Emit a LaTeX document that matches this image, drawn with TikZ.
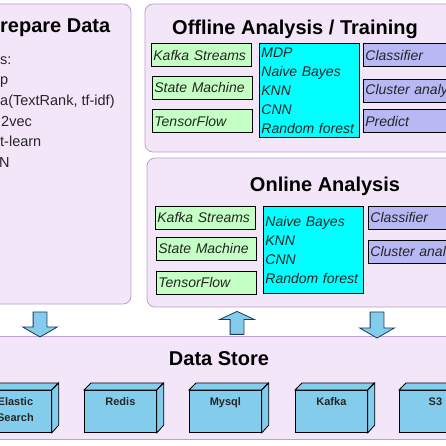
\documentclass[tikz,border=0pt]{standalone}
\usepackage{fontspec}
\setmainfont{Liberation Sans}
\usetikzlibrary{shapes.arrows,positioning}
\definecolor{panelfill}{HTML}{F3E6F8}
\definecolor{panelline}{HTML}{BBA0CC}
\definecolor{toolgreen}{HTML}{C4FFC4}
\definecolor{algocyan}{HTML}{00FFFF}
\definecolor{taskblue}{HTML}{B8B8F4}
\definecolor{storeblue}{HTML}{84CCEC}
\definecolor{arrowline}{HTML}{1E3A5A}

\begin{document}
\begin{tikzpicture}[x=1pt,y=-1pt,
  panel/.style={draw=panelline,fill=panelfill,rounded corners=8pt,line width=0.8pt},
  paneltitle/.style={font=\fontsize{20}{24}\selectfont\bfseries,anchor=base,inner sep=0pt},
  listtext/.style={font=\fontsize{14.5}{18}\selectfont,text=black!85,anchor=base west,inner sep=0pt},
  toolbox/.style={draw,line width=0.8pt,fill=toolgreen,anchor=north west,minimum height=23pt,text width=96pt,inner xsep=2pt,inner ysep=0pt,align=left,font=\fontsize{14}{17}\selectfont\itshape,text=black!85},
  algobox/.style={toolbox,fill=algocyan,font=\fontsize{14}{19}\selectfont\itshape},
  taskbox/.style={toolbox,fill=taskblue,text width=110pt},
  storebox/.style={draw,line width=0.8pt,fill=storeblue,anchor=north west,minimum width=72pt,minimum height=42pt,inner sep=0pt},
  storelabel/.style={font=\fontsize{11}{16}\selectfont\bfseries,text=black!85,align=center,inner sep=0pt},
  flowarrow/.style={single arrow,draw=arrowline,line width=0.8pt,fill=storeblue,inner xsep=0pt,inner ysep=6.5pt,minimum height=25pt,single arrow head extend=10.5pt,single arrow tip angle=120}]
  \useasboundingbox (0,0) rectangle (445,446);

  \draw[panel] (-20,4) rectangle (131,304);
  \draw[panel] (145,4) rectangle (470,152);
  \draw[panel] (147,158) rectangle (470,307);
  \draw[panel,rounded corners=0pt] (-20,336) rectangle (470,439);

  \node[paneltitle,anchor=base west] (prepTitle) at (0,33) {repare Data};
  \node[listtext] (prepA) at (0,64.5) {s:};
  \node[listtext] (prepB) at (0,85) {p};
  \node[listtext] (prepC) at (0,105.7) {a(TextRank, tf-idf)};
  \node[listtext] (prepD) at (1,126.3) {2vec};
  \node[listtext] (prepE) at (0,146.9) {t-learn};
  \node[listtext] (prepF) at (-1,167.5) {N};

  \node[paneltitle] (offTitle) at (295,35) {Offline Analysis / Training};
  \node[toolbox] (offKafka) at (151,43.5) {Kafka Streams};
  \node[toolbox] (offState) at (152,76) {State Machine};
  \node[toolbox] (offTensor) at (152,109.5) {TensorFlow};
  \node[algobox,minimum height=94pt] (offAlgo) at (259,43) {MDP\\Naive Bayes\\KNN\\CNN\\Random forest};
  \node[taskbox] (offClassifier) at (363,43.5) {Classifier};
  \node[taskbox] (offCluster) at (363,79) {Cluster analy};
  \node[taskbox] (offPredict) at (363,109.5) {Predict};

  \node[paneltitle] (onTitle) at (325,191) {Online Analysis};
  \node[toolbox] (onKafka) at (155,206) {Kafka Streams};
  \node[toolbox] (onState) at (156,236.5) {State Machine};
  \node[toolbox] (onTensor) at (156,270.5) {TensorFlow};
  \node[algobox,minimum height=87pt] (onAlgo) at (263,206) {Naive Bayes\\KNN\\CNN\\Random forest\\[4pt]};
  \node[taskbox] (onClassifier) at (368,205.5) {Classifier};
  \node[taskbox] (onCluster) at (368,239.5) {Cluster anal};

  \node[flowarrow,rotate=-90] (toStoreLeft) at (40,322.5) {};
  \node[flowarrow,rotate=90,minimum height=23pt,single arrow tip angle=130] (fromStore) at (237,324.5) {};
  \node[flowarrow,rotate=-90,minimum height=26pt] (toStoreRight) at (377,323) {};

  \node[paneltitle] (storeTitle) at (219,365) {Data Store};
  \foreach \name/\x/\txt in {storeElastic/-21/{Elastic\\Search},storeRedis/84/Redis,storeMysql/189/Mysql,storeKafka/295/Kafka,storeSthree/399/S3}{
    \node[storebox] (\name) at (\x,390) {};
    \draw[line width=0.8pt,fill=storeblue] (\name.north west) -- ++(7,-7) -- ++(72,0) -- (\name.north east) -- cycle;
    \draw[line width=0.8pt,fill=storeblue] (\name.north east) -- ++(7,-7) -- ++(0,42) -- (\name.south east) -- cycle;
    \node[storelabel,below=7.5pt of \name.north] {\txt};
  }
\end{tikzpicture}
\end{document}
